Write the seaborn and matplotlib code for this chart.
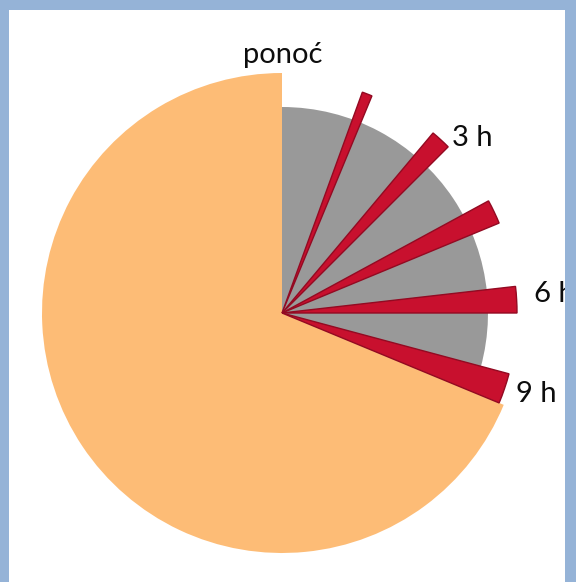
import numpy as np
import matplotlib.pyplot as plt
import seaborn as sns
from matplotlib.patches import Rectangle

# ==========================================
# Data (clock of 24 hours, midnight on top)
# ==========================================

day_hours = 24
sleep_start = 0.0          # h
sleep_end = 7.5            # h
rem_end = [1.5, 3.0, 4.5, 6.0, 7.5]       # h, end of each REM phase
rem_minutes = [10, 20, 24, 26, 30]        # duration of each REM phase

awake_radius = 240
sleep_radius = 206
rem_radius = 235

labels = ["ponoć", "3 h", "6 h", "9 h"]

# ==========================================
# Style
# ==========================================

sns.set_theme(style="white")
plt.rcParams["font.family"] = ["Lato", "DejaVu Sans"]

orange = "#fdbc76"
grey = "#999999"
red = "#c8102e"
red_edge = "#930a22"
frame = "#95b3d7"

deg_per_hour = 360 / day_hours

fig = plt.figure(figsize=(5.76, 5.82), dpi=100)
fig.patch.set_facecolor("white")

# polar axes: center at (282, 313) px from top-left, 1 unit = 1 px
cx, cy, rmax = 282, 582 - 313, 250
ax = fig.add_axes([(cx - rmax) / 576, (cy - rmax) / 582, 2 * rmax / 576, 2 * rmax / 582],
                  projection="polar")
ax.set_theta_zero_location("N")
ax.set_theta_direction(-1)
ax.set_ylim(0, rmax)
ax.set_axis_off()

# awake part of the day
ax.bar(np.deg2rad(sleep_end * deg_per_hour), awake_radius,
       width=np.deg2rad((day_hours - sleep_end + sleep_start) * deg_per_hour),
       align="edge", color=orange, linewidth=0, zorder=1)

# sleep
ax.bar(np.deg2rad(sleep_start * deg_per_hour), sleep_radius,
       width=np.deg2rad((sleep_end - sleep_start) * deg_per_hour),
       align="edge", color=grey, linewidth=0, zorder=2)

# REM phases
rem_end_arr = np.array(rem_end)
rem_len_h = np.array(rem_minutes) / 60
ax.bar(np.deg2rad((rem_end_arr - rem_len_h) * deg_per_hour), rem_radius,
       width=np.deg2rad(rem_len_h * deg_per_hour),
       align="edge", color=red, edgecolor=red_edge, linewidth=1, zorder=3)

# labels
label_theta = [0.2, 47.4, 86, 107.6]
label_r = [258, 258, 273, 267]
for lab, t, r in zip(labels, label_theta, label_r):
    ax.text(np.deg2rad(t), r, lab, ha="center", va="center",
            fontsize=21, color="#0d0d0d", zorder=5)

# light blue frame (left, top, right)
for x, y, w, h in [(0, 0, 9, 582), (0, 572, 576, 10), (565, 0, 11, 582)]:
    fig.add_artist(Rectangle((x / 576, y / 582), w / 576, h / 582,
                             transform=fig.transFigure, color=frame,
                             linewidth=0, zorder=10))

fig.savefig("out.png", dpi=100)
plt.close()
